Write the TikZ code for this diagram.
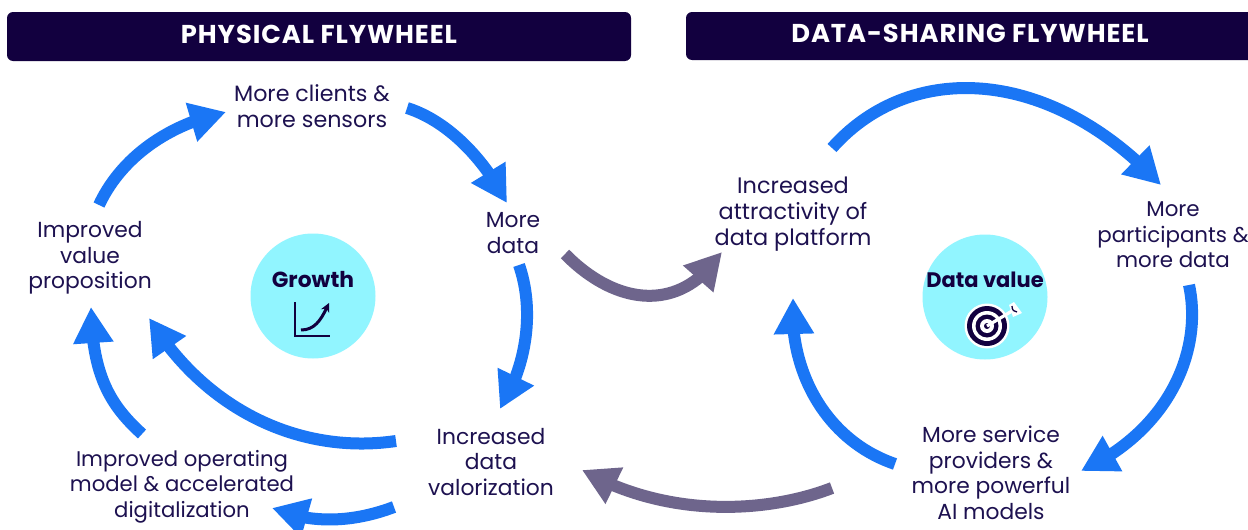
\documentclass[tikz,border=0pt]{standalone}
\usepackage{fontspec}
\setmainfont{Poppins}
\usetikzlibrary{arrows.meta,bending}
\definecolor{navy}{HTML}{12003F}
\definecolor{inkc}{HTML}{1D1150}
\definecolor{flyblue}{HTML}{1A76F5}
\definecolor{flygrey}{HTML}{6E658C}
\definecolor{aqua}{HTML}{91F5FF}
\tikzset{
  x=1pt,y=-1pt,
  header/.style={fill=navy,rounded corners=6pt,draw=none},
  headtext/.style={text=white,font=\fontsize{25.8}{29}\selectfont\bfseries\addfontfeature{LetterSpace=3.6},inner sep=0pt},
  lbl/.style={text=inkc,align=center,font=\fontsize{21.8}{25.5}\selectfont,inner sep=0pt},
  hub/.style={circle,fill=aqua,draw=none,minimum size=125pt,inner sep=0pt},
  hubtext/.style={text=navy,font=\fontsize{21}{24}\selectfont\bfseries,inner sep=0pt},
  flow/.style={line width=12pt,-{Triangle[length=36pt,width=38pt,flex=1]}},
  flowb/.style={flow,draw=flyblue},
  flowg/.style={flow,draw=flygrey},
}
\begin{document}
\begin{tikzpicture}
\useasboundingbox (0,0) rectangle (1248,530);
\fill[white] (0,0) rectangle (1248,530);
% headers
\path[header] (7,12) rectangle (631,61);
\path[header] (686,12) rectangle (1270,60);
\node[headtext] (h1) at (319,34) {PHYSICAL FLYWHEEL};
\node[headtext] (h2) at (970,33) {DATA-SHARING FLYWHEEL};
% hubs
\node[hub] (growth) at (313,296) {};
\node[hub] (dvalue) at (985,297) {};
\node[hubtext,font=\fontsize{21.8}{24}\selectfont\bfseries] (growtht) at (313,280) {Growth};
\node[hubtext] (dvaluet) at (985,280) {Data value};
% growth icon
\draw[navy,line width=2.7pt] (295,302) -- (295,336) -- (330,336);
\draw[navy,line width=3pt,-{Stealth[length=9pt,width=9pt]}] (301,330) .. controls (316,330) and (322,318) .. (329,303);
% target icon
\fill[white] (987,326) circle (22.5);
\fill[navy] (987,326) circle (20);
\fill[white] (987,326) circle (15);
\fill[navy] (987,326) circle (11.5);
\fill[white] (987,326) circle (7);
\fill[navy] (987,326) circle (3);
\draw[white,line width=3.2pt] (987,326) -- (1012,311);
\fill[white] (1009,305) -- (1014,302) -- (1022,313) -- (1013,317) -- cycle;
\draw[navy,line width=1.3pt] (1012,306) .. controls (1012,310) and (1014,312) .. (1017,312);
% labels
\node[lbl,font=\fontsize{22.2}{25.5}\selectfont] (clients) at (312,106) {More clients \&\\more sensors};
\node[lbl] (data) at (513,233) {More\\data};
\node[lbl] (valor) at (491,462) {Increased\\data\\valorization};
\node[lbl,font=\fontsize{21.2}{25.5}\selectfont] (model) at (182,486.5) {Improved operating\\model \& accelerated\\digitalization};
\node[lbl] (value) at (90,258) {Improved\\value\\proposition};
\node[lbl,font=\fontsize{22.4}{25.8}\selectfont] (attract) at (793,214) {Increased\\attractivity of\\data platform};
\node[lbl,font=\fontsize{21.4}{25.5}\selectfont] (partic) at (1173,235) {More\\participants \&\\more data};
\node[lbl] (provid) at (991,473) {More service\\providers \&\\more powerful\\AI models};
% connector ends
\coordinate (a1s) at (99,205);   \coordinate (a1e) at (226,112);
\coordinate (a2s) at (407,108);  \coordinate (a2e) at (507,203);
\coordinate (a3s) at (519,265);  \coordinate (a3e) at (500,409);
\coordinate (a4s) at (396,441);  \coordinate (a4e) at (149,318);
\coordinate (a5s) at (394,507);  \coordinate (a5e) at (272,508);
\coordinate (a6s) at (142,434);  \coordinate (a6e) at (91,307);
\coordinate (a7s) at (565,254);  \coordinate (a7e) at (722,252);
\coordinate (a8s) at (832,148);  \coordinate (a8e) at (1161,185);
\coordinate (a9s) at (1189,285); \coordinate (a9e) at (1081,471);
\coordinate (a10s) at (895,464); \coordinate (a10e) at (793,298);
\coordinate (a11s) at (832,488); \coordinate (a11e) at (582,470);
% connectors
\draw[flowb] (a1s) .. controls (120,160) and (165,125) .. (a1e);
\draw[flowb] (a2s) .. controls (445,120) and (482,155) .. (a2e);
\draw[flowb] (a3s) .. controls (533,305) and (530,360) .. (a3e);
\draw[flowb] (a4s) .. controls (300,455) and (205,410) .. (a4e);
\draw[flowb] (a5s) .. controls (365,518) and (320,528) .. (a5e);
\draw[flowb] (a6s) .. controls (110,405) and (92,375) .. (a6e);
\draw[flowg] (a7s) .. controls (615,305) and (680,315) .. (a7e);
\draw[flowb] (a8s) .. controls (910,60) and (1050,66) .. (a8e);
\draw[flowb] (a9s) .. controls (1203,350) and (1170,430) .. (a9e);
\draw[flowb] (a10s) .. controls (825,440) and (788,370) .. (a10e);
\draw[flowg] (a11s) .. controls (770,512) and (670,520) .. (a11e);
\end{tikzpicture}
\end{document}
